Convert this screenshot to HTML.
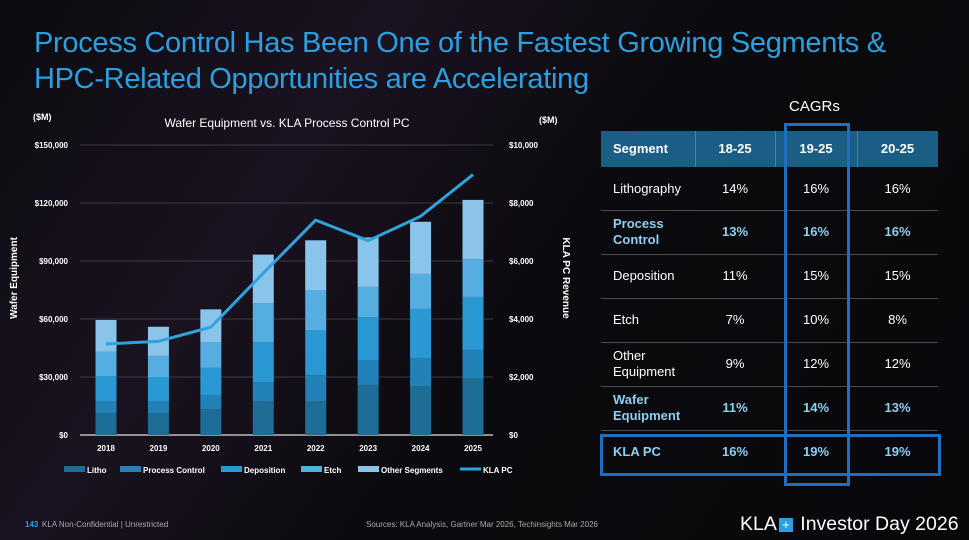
<!DOCTYPE html>
<html><head><meta charset="utf-8"><style>
html,body{margin:0;padding:0}
body{width:969px;height:540px;overflow:hidden;position:relative;font-family:"Liberation Sans",sans-serif;color:#fff;
background:linear-gradient(125deg,#0c0b10 0%,#1a1220 30%,#0b0a0e 55%,#08080b 100%);}
.t{position:absolute;white-space:nowrap}
#title{left:34px;top:25px;font-size:29px;line-height:36px;color:#2b9fe0;letter-spacing:-0.3px}
</style></head><body>
<div id="title" class="t">Process Control Has Been One of the Fastest Growing Segments &amp;<br>HPC-Related Opportunities are Accelerating</div>

<svg id="chart" width="969" height="540" style="position:absolute;left:0;top:0"></svg>

<div class="t" style="left:789px;top:98px;font-size:15px">CAGRs</div>
<div style="position:absolute;left:601px;top:131px;width:337px;height:36px;background:#1b5e85"></div>
<div id="tbl"></div>
<div style="position:absolute;left:784px;top:123px;width:60px;height:357px;border:3px solid #1f6fc0"></div>
<div style="position:absolute;left:600px;top:434px;width:335px;height:36px;border:3px solid #1f6fc0"></div>

<div class="t" style="left:25px;top:520px;font-size:8px;color:#2b9fe0;font-weight:bold">143</div>
<div class="t" style="left:42px;top:520px;font-size:8px;color:#aaa">KLA Non-Confidential | Unrestricted</div>
<div class="t" style="left:366px;top:520px;font-size:8px;color:#aaa">Sources: KLA Analysis, Gartner Mar 2026, Techinsights Mar 2026</div>
<div class="t" style="left:740px;top:513px;font-size:19.5px;color:#fff;font-weight:300">KLA<span style="display:inline-block;width:14px;height:14px;background:#2b9fe0;color:#fff;font-size:13px;line-height:14px;text-align:center;margin:0 2px;vertical-align:1px">+</span> Investor Day 2026</div>

<script>
const years=["2018","2019","2020","2021","2022","2023","2024","2025"];
const litho=[11.2,11.2,13.4,17.2,17.4,25.9,25.3,29.1];
const procCtrl=[6.4,6.4,7.3,10.2,13.5,12.9,14.5,14.9];
const depo=[12.9,12.2,14.0,20.7,23.2,22.2,25.4,27.4];
const etch=[12.5,11.1,13.4,20.0,20.9,15.6,18.1,19.6];
const other=[16.5,15.1,16.9,25.2,25.7,25.6,27.0,30.6];
const klaPC=[3140,3230,3720,5580,7410,6700,7540,8980];
const leftTicks=["$0","$30,000","$60,000","$90,000","$120,000","$150,000"];
const rightTicks=["$0","$2,000","$4,000","$6,000","$8,000","$10,000"];
const seriesNames=["Litho","Process Control","Deposition","Etch","Other Segments"];
const colors=["#1e6d96","#2281b6","#2a99d3","#55ade0","#8ac4ea"];

const svg=document.getElementById('chart');
const NS='http://www.w3.org/2000/svg';
function mk(tag,attrs,parent){const e=document.createElementNS(NS,tag);for(const k in attrs)e.setAttribute(k,attrs[k]);(parent||svg).appendChild(e);return e;}
const y0=435,y1=145,x0=80,x1=493;
const yL=v=>y0-(v/150)*(y0-y1);
const yR=v=>y0-(v/10000)*(y0-y1);
const xC=i=>106+i*(473-106)/(years.length-1);
const bw=21;
leftTicks.forEach((t,i)=>{
  const y=y0-i*(y0-y1)/5;
  const g=mk('line',{x1:x0,x2:x1,y1:y,y2:y,stroke:i==0?'#ddd':'#3a3a44','stroke-width':i==0?1.2:1});
  
  const a=mk('text',{x:68,y:y+3,'text-anchor':'end','font-size':8,'font-weight':'bold',fill:'#fff'});a.textContent=t;
  
  const b=mk('text',{x:509,y:y+3,'font-size':8,'font-weight':'bold',fill:'#fff'});b.textContent=rightTicks[i];
  
});
const series=[litho,procCtrl,depo,etch,other];
years.forEach((yr,i)=>{
  let acc=0;
  series.forEach((s,k)=>{
    const r=mk('rect',{x:xC(i)-bw/2,y:yL(acc+s[i]),width:bw,height:yL(acc)-yL(acc+s[i]),fill:colors[k]});
    
    
    acc+=s[i];
  });
  const t=mk('text',{x:xC(i),y:451,'text-anchor':'middle','font-size':8,'font-weight':'bold',fill:'#fff'});t.textContent=yr;
  
});
const pl=mk('polyline',{points:klaPC.map((v,i)=>xC(i)+','+yR(v)).join(' '),fill:'none',stroke:'#2fa3dc','stroke-width':3,'stroke-linejoin':'round'});

function txt(x,y,s,attrs,name){const t=mk('text',Object.assign({x:x,y:y,fill:'#fff'},attrs));t.textContent=s;return t;}
txt(287,127,"Wafer Equipment vs. KLA Process Control PC",{'text-anchor':'middle','font-size':12},'chart-title');
txt(33,120,"($M)",{'font-size':9,'font-weight':'bold'},'left-unit');
txt(539,123,"($M)",{'font-size':9,'font-weight':'bold'},'right-unit');
txt(0,0,"Wafer Equipment",{'font-size':10,'font-weight':'bold','text-anchor':'middle',transform:'translate(17,278) rotate(-90)'},'y-axis-title');
txt(0,0,"KLA PC Revenue",{'font-size':10,'font-weight':'bold','text-anchor':'middle',transform:'translate(563,278) rotate(90)'},'y2-axis-title');
const legX=[64,120,221,301,358];
seriesNames.forEach((n,k)=>{
  const r=mk('rect',{x:legX[k],y:466,width:21,height:6,fill:colors[k]});
  
  txt(legX[k]+23,473,n,{'font-size':8,'font-weight':'bold'},'legend-entry');
});
const ll=mk('line',{x1:460,x2:481,y1:469,y2:469,stroke:'#2fa3dc','stroke-width':3});

txt(483,473,"KLA PC",{'font-size':8,'font-weight':'bold'},'legend-entry');

// table
const rows=[["Lithography","14%","16%","16%",0],["Process<br>Control","13%","16%","16%",1],["Deposition","11%","15%","15%",0],["Etch","7%","10%","8%",0],["Other<br>Equipment","9%","12%","12%",0],["Wafer<br>Equipment","11%","14%","13%",1],["KLA PC","16%","19%","19%",1]];
const tops=[167,210,254,298,342,386,430,473];
const colX=[601,695,775,857,938];
const tb=document.getElementById('tbl');
let h='';
const hdr=["Segment","18-25","19-25","20-25"];
hdr.forEach((s,c)=>{h+=`<div class="t" style="left:${colX[c]+(c?0:12)}px;width:${c?colX[c+1]-colX[c]:80}px;top:131px;height:36px;line-height:36px;font-size:13px;font-weight:bold;${c?'text-align:center':''}">${s}</div>`;
 if(c>0)h+=`<div style="position:absolute;left:${colX[c]}px;top:131px;width:1px;height:36px;background:#3d87b3"></div>`;});
rows.forEach((r,i)=>{
  const top=tops[i],ht=tops[i+1]-tops[i],col=r[4]?'#8fd0f2':'#fff',fw=r[4]?'bold':'normal';
  for(let c=0;c<4;c++){
    h+=`<div class="t" style="left:${colX[c]+(c?0:12)}px;width:${c?colX[c+1]-colX[c]:85}px;top:${top}px;height:${ht}px;display:flex;align-items:center;${c?'justify-content:center;':''}font-size:13px;line-height:16px;color:${col};font-weight:${fw}"><span>${r[c]}</span></div>`;
  }
  if(i<6)h+=`<div style="position:absolute;left:601px;top:${tops[i+1]}px;width:337px;height:1px;background:#4a4a52"></div>`;
});
tb.innerHTML=h;
</script>
</body></html>
